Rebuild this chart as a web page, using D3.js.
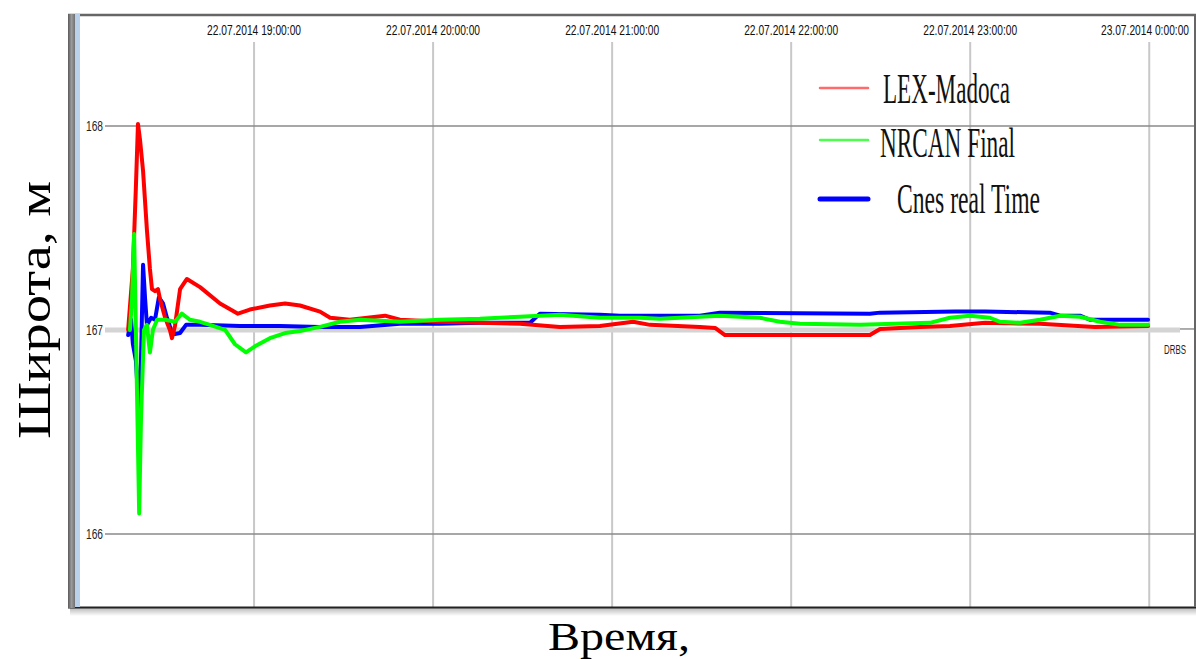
<!DOCTYPE html>
<html>
<head>
<meta charset="utf-8">
<script src="https://cdn.jsdelivr.net/npm/d3@7"></script>
<style>
  body { margin: 0; background: #fff; }
  svg { display: block; }
</style>
</head>
<body>
<svg id="chart" width="1196" height="659"></svg>
<script>
// minutes after 22.07.2014 18:00 -> value (m)
const lexMin = [17.8,19.4,20.4,21.1,21.8,22.8,24.1,25.1,25.8,26.8,27.8,28.5,30.2,31.8,32.5,33.5,35.2,37.5,41.9,48.6,54.6,58.6,65.3,70.4,75.4,82.1,85.5,92.1,103.9,108.9,122.3,135.7,149.1,162.5,175.9,187.0,192.7,209.4,214.5,217.8,236.2,266.4,269.8,283.2,293.2,305.0,323.4,341.8,359.6];
const lexVal = [167.0,167.3,167.7,168.01,167.93,167.78,167.49,167.3,167.2,167.19,167.2,167.15,167.06,167.0,166.96,167.02,167.2,167.25,167.21,167.13,167.08,167.1,167.12,167.13,167.12,167.09,167.06,167.05,167.07,167.05,167.04,167.035,167.03,167.015,167.02,167.04,167.025,167.015,167.01,166.975,166.975,166.975,167.005,167.015,167.02,167.035,167.03,167.015,167.02];

const nrcanMin = [18.4,19.1,19.8,20.4,21.5,22.1,23.1,24.1,25.1,26.1,27.5,30.2,33.5,35.8,38.5,41.9,45.2,50.3,53.6,57.3,60.3,65.3,70.4,75.4,82.1,88.8,95.5,102.2,108.9,122.3,135.7,149.1,162.5,175.9,189.3,196.0,216.1,229.5,236.2,242.9,263.1,286.5,293.2,299.9,306.6,310.0,316.7,323.4,330.1,336.8,343.5,350.2,359.6];
const nrcanVal = [167.0,167.15,167.47,167.0,166.1,166.56,167.0,167.025,166.89,167.0,167.05,167.05,167.04,167.08,167.05,167.04,167.025,167.0,166.93,166.89,166.92,166.96,166.985,166.995,167.015,167.04,167.05,167.045,167.04,167.05,167.055,167.065,167.075,167.06,167.06,167.055,167.07,167.06,167.04,167.03,167.025,167.035,167.06,167.07,167.06,167.04,167.035,167.05,167.07,167.065,167.04,167.025,167.025];

const cnesMin = [17.8,18.8,19.4,20.4,21.5,22.1,22.8,23.5,24.1,25.5,26.8,28.1,29.5,30.8,32.2,33.5,35.2,37.2,41.9,55.3,68.7,82.1,95.5,108.9,122.3,135.7,152.5,155.8,175.9,182.6,209.4,216.1,266.4,269.8,295.0,305.0,326.7,330.1,336.8,340.1,359.6];
const cnesVal = [166.975,167.05,166.93,166.85,166.58,166.85,167.32,167.15,167.025,167.06,167.05,167.16,167.13,167.06,167.0,166.98,166.985,167.025,167.025,167.02,167.02,167.015,167.015,167.03,167.03,167.035,167.035,167.08,167.075,167.07,167.07,167.085,167.08,167.085,167.09,167.09,167.085,167.07,167.07,167.05,167.05];

const xTickMin   = [60, 120, 180, 240, 300, 360];
const xTickLabel = ["22.07.2014 19:00:00", "22.07.2014 20:00:00", "22.07.2014 21:00:00",
                    "22.07.2014 22:00:00", "22.07.2014 23:00:00", "23.07.2014 0:00:00"];
const yTicks     = [166, 167, 168];
const seriesNames = ["LEX-Madoca", "NRCAN Final", "Cnes real Time"];

const svg = d3.select("#chart");
const base = new Date(2014, 6, 22, 18, 0, 0);
const toDate = m => new Date(base.getTime() + m * 60000);

// plot frame
const plotL = 80, plotR = 1196, plotT = 15, plotB = 607;

const x = d3.scaleTime()
  .domain([toDate(1.67), toDate(375.67)])
  .range([plotL, plotR]);
const y = d3.scaleLinear()
  .domain([165.642, 168.544])
  .range([plotB, plotT]);

// shadow under frame
const defs = svg.append("defs");
const sh = defs.append("linearGradient").attr("id", "shadow")
  .attr("x1", 0).attr("y1", 0).attr("x2", 0).attr("y2", 1);
sh.append("stop").attr("offset", "0%").attr("stop-color", "#bbb");
sh.append("stop").attr("offset", "100%").attr("stop-color", "#fff");
svg.append("rect").attr("x", 70).attr("y", plotB + 1).attr("width", plotR - 70).attr("height", 8)
  .attr("fill", "url(#shadow)");

const lb = defs.append("linearGradient").attr("id", "leftbar")
  .attr("x1", 0).attr("y1", 0).attr("x2", 1).attr("y2", 0);
lb.append("stop").attr("offset", "0%").attr("stop-color", "#5a5a5a");
lb.append("stop").attr("offset", "50%").attr("stop-color", "#9a9a9a");
lb.append("stop").attr("offset", "100%").attr("stop-color", "#707070");

svg.append("rect").attr("x", plotL).attr("y", plotT).attr("width", plotR - plotL).attr("height", plotB - plotT)
  .attr("fill", "#fff");

// vertical grid
svg.append("g").selectAll("line")
  .data(xTickMin)
  .join("line")
    .attr("x1", d => x(toDate(d))).attr("x2", d => x(toDate(d)))
    .attr("y1", 42).attr("y2", plotB)
    .attr("stroke", "#c8c8c8").attr("stroke-width", 2);

// top tick labels (last one pulled in from the right border)
svg.append("g").selectAll("text")
  .data(xTickMin)
  .join("text")
    .attr("x", (d, i) => i === xTickMin.length - 1 ? 1145 : x(toDate(d)))
    .attr("y", 35)
    .attr("text-anchor", "middle")
    .attr("font-family", "'Liberation Sans Narrow', 'Liberation Sans', sans-serif")
    .attr("font-size", 14)
    .attr("textLength", (d, i) => i === xTickMin.length - 1 ? 88 : 94)
    .attr("lengthAdjust", "spacingAndGlyphs")
    .attr("fill", "#111")
    .text((d, i) => xTickLabel[i]);

// horizontal grid
svg.append("g").selectAll("line")
  .data(yTicks)
  .join("line")
    .attr("x1", 105).attr("x2", d => d === 167 ? 1180 : plotR)
    .attr("y1", d => y(d)).attr("y2", d => y(d))
    .attr("stroke", d => d === 167 ? "#d4d4d4" : "#8a8a8a")
    .attr("stroke-width", d => d === 167 ? 5 : 1.6);
svg.append("line").attr("x1", 1180).attr("x2", plotR).attr("y1", y(167) - 1).attr("y2", y(167) - 1)
  .attr("stroke", "#777").attr("stroke-width", 1.2);

svg.append("g").selectAll("text")
  .data(yTicks)
  .join("text")
    .attr("x", 103).attr("y", d => y(d) + 5)
    .attr("text-anchor", "end")
    .attr("font-family", "'Liberation Sans Narrow', 'Liberation Sans', sans-serif")
    .attr("font-size", 14)
    .attr("textLength", 17)
    .attr("lengthAdjust", "spacingAndGlyphs")
    .attr("fill", "#222")
    .text(d => d);

svg.append("text")
  .attr("x", 1175).attr("y", 354)
  .attr("text-anchor", "middle")
  .attr("font-family", "'Liberation Sans Narrow', 'Liberation Sans', sans-serif")
  .attr("font-size", 12)
  .attr("textLength", 22)
  .attr("lengthAdjust", "spacingAndGlyphs")
  .attr("fill", "#222")
  .text("DRBS");

// series
const line = d3.line()
  .x(d => x(toDate(d[0])))
  .y(d => y(d[1]));

const series = [
  { pts: d3.zip(cnesMin, cnesVal),   color: "#0000ff" },
  { pts: d3.zip(lexMin, lexVal),     color: "#ff0000" },
  { pts: d3.zip(nrcanMin, nrcanVal), color: "#00ff00" }
];
svg.append("g").selectAll("path")
  .data(series)
  .join("path")
    .attr("d", d => line(d.pts))
    .attr("fill", "none")
    .attr("stroke", d => d.color)
    .attr("stroke-width", 4)
    .attr("stroke-linejoin", "round")
    .attr("stroke-linecap", "round");

// frame borders
svg.append("line").attr("x1", 68).attr("x2", plotR).attr("y1", 15).attr("y2", 15)
  .attr("stroke", "#666").attr("stroke-width", 2.5);
svg.append("line").attr("x1", 68).attr("x2", plotR).attr("y1", plotB + 0.5).attr("y2", plotB + 0.5)
  .attr("stroke", "#222").attr("stroke-width", 2);
svg.append("line").attr("x1", plotR - 1).attr("x2", plotR - 1).attr("y1", 15).attr("y2", plotB)
  .attr("stroke", "#666").attr("stroke-width", 2);
svg.append("rect").attr("x", 68).attr("y", 14).attr("width", 7).attr("height", plotB - 13)
  .attr("fill", "url(#leftbar)");
svg.append("rect").attr("x", 75).attr("y", 14).attr("width", 5).attr("height", plotB - 14)
  .attr("fill", "#b9d1ea");

// legend
const legend = svg.append("g");
const legY   = [88, 140, 199];
const legTxY = [103, 157, 213];
const legTxX = [883, 880, 897];
const legTxW = [127, 135, 143];
const legCol = ["#ff6a6a", "#4cff4c", "#0000ff"];
const legSW  = [2.5, 2.5, 5];
legend.selectAll("line")
  .data(seriesNames)
  .join("line")
    .attr("x1", 820).attr("x2", 868)
    .attr("y1", (d, i) => legY[i]).attr("y2", (d, i) => legY[i])
    .attr("stroke", (d, i) => legCol[i])
    .attr("stroke-width", (d, i) => legSW[i])
    .attr("stroke-linecap", "round");
legend.selectAll("text")
  .data(seriesNames)
  .join("text")
    .attr("x", (d, i) => legTxX[i]).attr("y", (d, i) => legTxY[i])
    .attr("font-family", "'Liberation Serif', 'Times New Roman', serif")
    .attr("font-size", 42)
    .attr("textLength", (d, i) => legTxW[i])
    .attr("lengthAdjust", "spacingAndGlyphs")
    .attr("fill", "#111")
    .text(d => d);

// axis titles
svg.append("text")
  .attr("transform", "translate(50,310) rotate(-90)")
  .attr("text-anchor", "middle")
  .attr("font-family", "'Liberation Serif', 'Times New Roman', serif")
  .attr("font-size", 46)
  .attr("textLength", 258)
  .attr("lengthAdjust", "spacingAndGlyphs")
  .attr("fill", "#000")
  .text("Широта, м");

svg.append("text")
  .attr("x", 619).attr("y", 650)
  .attr("text-anchor", "middle")
  .attr("font-family", "'Liberation Serif', 'Times New Roman', serif")
  .attr("font-size", 40)
  .attr("textLength", 142)
  .attr("lengthAdjust", "spacingAndGlyphs")
  .attr("fill", "#000")
  .text("Время,");
</script>
</body>
</html>
